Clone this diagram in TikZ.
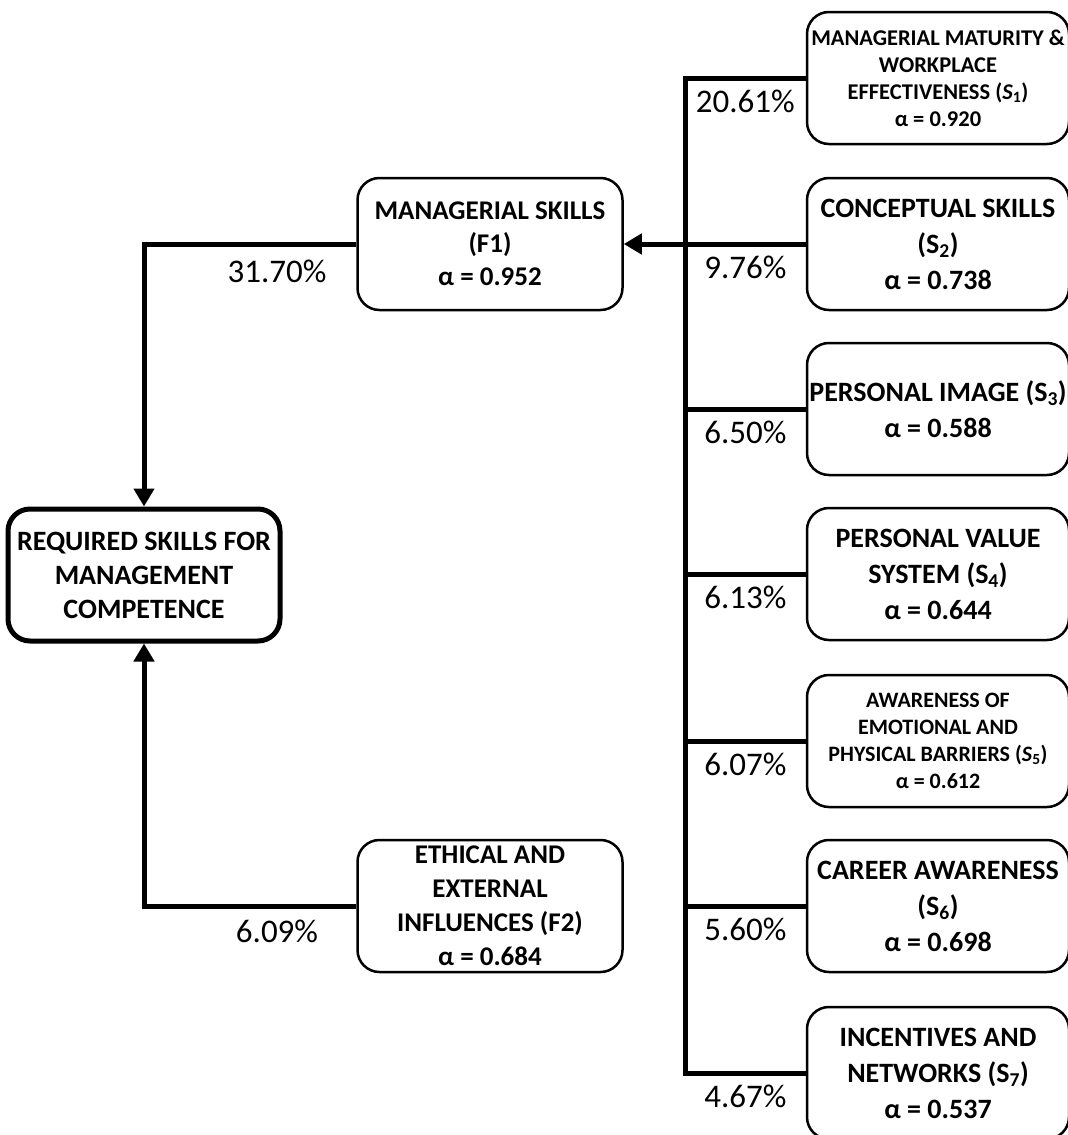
\documentclass[tikz,border=0pt]{standalone}
\usepackage{fontspec}
\setmainfont{Carlito}
\usepackage{tikz}
\usetikzlibrary{arrows.meta,positioning}

\begin{document}
\begin{tikzpicture}[x=1pt,y=-1pt,>={Triangle[length=18pt,width=20pt]},
  box/.style={rectangle,rounded corners=22pt,draw=black,fill=white,line width=2.5pt,minimum width=262pt,minimum height=132pt,inner sep=0pt,align=center,font=\bfseries\fontsize{28}{36}\selectfont},
  link/.style={draw=black,line width=5pt},
  pct/.style={font=\fontsize{33}{36}\selectfont,inner sep=2pt}]
\useasboundingbox (0,0) rectangle (1068,1135);
% factors
\node[box,minimum width=265pt,font=\bfseries\fontsize{27}{33}\selectfont] (f1) at (490,244) {MANAGERIAL SKILLS\\(F1)\\α = 0.952};
\node[box,minimum width=272pt,line width=5pt,font=\bfseries\fontsize{28}{34}\selectfont] (req) at (144,575) {REQUIRED SKILLS FOR\\MANAGEMENT\\COMPETENCE};
\node[box,minimum width=265pt,font=\bfseries\fontsize{27}{34}\selectfont] (f2) at (490,906) {ETHICAL AND\\EXTERNAL\\INFLUENCES (F2)\\α = 0.684};
% sub-scales
\node[box,font=\bfseries\fontsize{22.5}{27}\selectfont] (s1) at (938,78) {MANAGERIAL MATURITY \&\\WORKPLACE\\EFFECTIVENESS (\textit{S}\textsubscript{1})\\α = 0.920};
\node[box] (s2) at (938,244) {CONCEPTUAL SKILLS\\(S\textsubscript{2})\\α = 0.738};
\node[box] (s3) at (938,409) {PERSONAL IMAGE (S\textsubscript{3})\\α = 0.588};
\node[box] (s4) at (938,574) {PERSONAL VALUE\\SYSTEM (S\textsubscript{4})\\α = 0.644};
\node[box,font=\bfseries\fontsize{22}{27}\selectfont] (s5) at (938,741) {AWARENESS OF\\EMOTIONAL AND\\PHYSICAL BARRIERS (\textit{S}\textsubscript{5})\\α = 0.612};
\node[box] (s6) at (938,906) {CAREER AWARENESS\\(S\textsubscript{6})\\α = 0.698};
\node[box] (s7) at (938,1073) {INCENTIVES AND\\NETWORKS (S\textsubscript{7})\\α = 0.537};
\coordinate (bustop) at (685,78);
\coordinate (busbot) at (685,1073);
% connectors
\draw[link] (s1.west) -- node[pct,below=7pt] {20.61\%} (bustop) -- (busbot) -- node[pct,below=7pt] {4.67\%} (s7.west);
\draw[link] (s2.west) -- node[pct,below=7pt] {9.76\%} (s2.west -| bustop);
\draw[link,->] (s2.west -| bustop) -- (f1.east);
\draw[link] (s3.west -| bustop) -- node[pct,below=7pt] {6.50\%} (s3.west);
\draw[link] (s4.west -| bustop) -- node[pct,below=7pt] {6.13\%} (s4.west);
\draw[link] (s5.west -| bustop) -- node[pct,below=7pt] {6.07\%} (s5.west);
\draw[link] (s6.west -| bustop) -- node[pct,below=7pt] {5.60\%} (s6.west);
\draw[link,->] (f1.west) -| (req.north);
\draw[link,->] (f2.west) -| (req.south);
\node[pct] (l1) at (277,271) {31.70\%};
\node[pct] (l2) at (277,931) {6.09\%};
\end{tikzpicture}
\end{document}
